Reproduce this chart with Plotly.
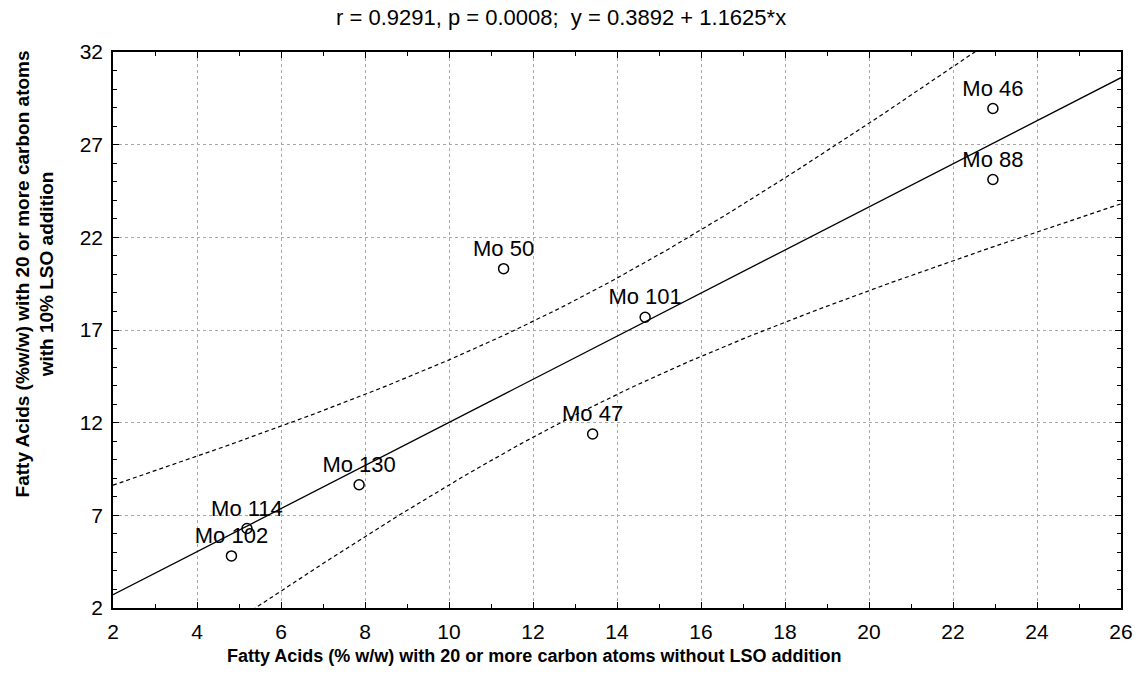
import numpy as np
import plotly.graph_objects as go

# Data
labels = ["Mo 46", "Mo 88", "Mo 50", "Mo 101", "Mo 47", "Mo 130", "Mo 114", "Mo 102"]
x_vals = [22.95, 22.95, 11.30, 14.67, 13.42, 7.86, 5.19, 4.82]
y_vals = [28.95, 25.12, 20.31, 17.69, 11.39, 8.65, 6.29, 4.81]
intercept = 0.3892
slope = 1.1625
x_range = [2, 26]
y_range = [2, 32]
x_ticks = list(range(2, 27, 2))
y_ticks = list(range(2, 33, 5))

FONT = "Arial, Liberation Sans, sans-serif"

xa = np.array(x_vals)
ya = np.array(y_vals)
n = len(xa)
xm = xa.mean()
sxx = ((xa - xm) ** 2).sum()
resid = ya - (intercept + slope * xa)
s = np.sqrt((resid ** 2).sum() / (n - 2))
tcrit = 2.4469  # t(0.975, df=6)

xl = np.linspace(x_range[0], x_range[1], 200)
yl = intercept + slope * xl
hw = tcrit * s * np.sqrt(1.0 / n + (xl - xm) ** 2 / sxx)

fig = go.Figure()
fig.add_trace(go.Scatter(x=xl, y=yl, mode="lines",
                         line=dict(color="black", width=1.3), showlegend=False))
fig.add_trace(go.Scatter(x=xl, y=yl + hw, mode="lines",
                         line=dict(color="black", width=1.2, dash="4px,3px"), showlegend=False))
fig.add_trace(go.Scatter(x=xl, y=yl - hw, mode="lines",
                         line=dict(color="black", width=1.2, dash="4px,3px"), showlegend=False))
fig.add_trace(go.Scatter(x=x_vals, y=y_vals, mode="markers+text", text=labels,
                         textposition="top center",
                         textfont=dict(family=FONT, size=22, color="black"),
                         marker=dict(symbol="circle-open", size=10, color="black",
                                     line=dict(width=1.5, color="black")),
                         showlegend=False, cliponaxis=False))

axis_common = dict(
    showline=True, linecolor="black", linewidth=1.5, mirror="ticks",
    ticks="inside", ticklen=6, tickcolor="black", tickwidth=1,
    showgrid=True, gridcolor="#a8a8a8", griddash="dot", gridwidth=1,
    zeroline=False, automargin=False,
    tickfont=dict(family=FONT, size=21, color="black"),
)

fig.update_xaxes(range=x_range, tickvals=x_ticks, ticklabelstandoff=4,
                 minor=dict(dtick=1, tick0=2, ticks="inside", ticklen=4, tickcolor="black", showgrid=False),
                 **axis_common)
fig.update_yaxes(range=y_range, tickvals=y_ticks, ticklabelstandoff=4,
                 minor=dict(dtick=1, tick0=2, ticks="inside", ticklen=4, tickcolor="black", showgrid=False),
                 **axis_common)

PL, PR = 113, 1121

def px_to_paper(px):
    return (px - PL) / (PR - PL)

fig.update_layout(
    width=1135, height=685,
    margin=dict(l=PL, r=1135 - PR, t=52, b=77, autoexpand=False),
    paper_bgcolor="white", plot_bgcolor="white",
    font=dict(family=FONT, size=20, color="black"),
    annotations=[
        dict(text="r = 0.9291, p = 0.0008;  y = 0.3892 + 1.1625*x",
             xref="paper", x=px_to_paper(561), yref="paper", y=1.0, yshift=35,
             xanchor="center", yanchor="middle", showarrow=False,
             font=dict(family=FONT, size=22, color="black")),
        dict(text="<b>Fatty Acids (% w/w) with 20 or more carbon atoms without LSO addition</b>",
             xref="paper", x=px_to_paper(225), yref="paper", y=0.0, yshift=-48,
             xanchor="left", yanchor="middle", showarrow=False,
             font=dict(family=FONT, size=18, color="black")),
        dict(text="<b>Fatty Acids (%w/w) with 20 or more carbon atoms<br>with 10% LSO addition</b>",
             xref="paper", x=0.0, xshift=-78, yref="paper", y=0.6,
             xanchor="center", yanchor="middle", showarrow=False, textangle=-90,
             font=dict(family=FONT, size=19, color="black")),
    ],
)

fig.write_html("out.html", config={"displayModeBar": False})
with open("out.html", "r", encoding="utf-8") as f:
    html = f.read()
html = html.replace("<body>", '<body style="margin:0;padding:0;overflow:hidden;">', 1)
with open("out.html", "w", encoding="utf-8") as f:
    f.write(html)
